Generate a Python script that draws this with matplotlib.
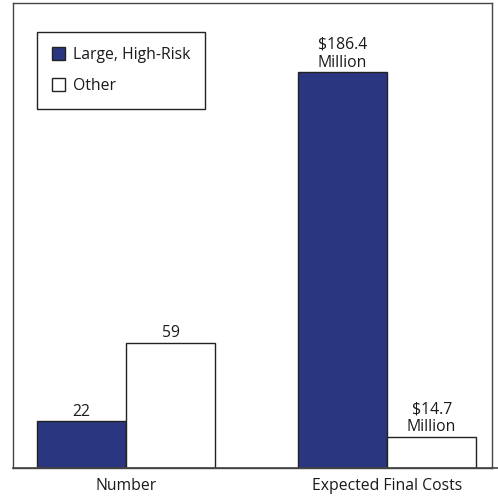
import matplotlib
matplotlib.use("Agg")
import matplotlib.pyplot as plt
import numpy as np

categories = ["Number", "Expected Final Costs"]
series_names = ["Large, High-Risk", "Other"]
large_values = [22, 186.4]
other_values = [59, 14.7]
large_labels = ["22", "$186.4\nMillion"]
other_labels = ["59", "$14.7\nMillion"]

blue = "#2a3680"
plt.rcParams["font.family"] = ["Open Sans", "DejaVu Sans"]
fs = 11.3

fig = plt.figure(figsize=(4.98, 4.99), dpi=100)
ax = fig.add_axes([0.0261, 0.0621, 0.962, 0.932])

x = np.arange(len(categories))
w = 0.341
b1 = ax.bar(x - w / 2, large_values, w, color=blue, edgecolor="#222222", linewidth=1, label=series_names[0])
b2 = ax.bar(x + w / 2, other_values, w, color="white", edgecolor="#222222", linewidth=1, label=series_names[1])

for bars, labels in ((b1, large_labels), (b2, other_labels)):
    for bar, lab in zip(bars, labels):
        ax.annotate(lab, (bar.get_x() + bar.get_width() / 2, bar.get_height()),
                    xytext=(0, 1), textcoords="offset points", ha="center", va="bottom",
                    fontsize=fs, color="#1a1a1a", linespacing=1.2)

ax.set_xlim(-0.433, 1.402)
ax.set_ylim(0, 219)
ax.set_xticks(x)
ax.set_xticklabels(categories, fontsize=fs, color="#1a1a1a")
ax.tick_params(axis="x", length=0, pad=7)
ax.set_yticks([])
for s in ax.spines.values():
    s.set_color("#444444")
    s.set_linewidth(1)
ax.plot([0, 1.013], [0, 0], transform=ax.transAxes, color="#444444", lw=1.2, clip_on=False)

leg = ax.legend(loc="upper left", bbox_to_anchor=(0.05, 0.9376), fontsize=fs,
                frameon=True, fancybox=False, edgecolor="#222222", framealpha=1,
                handlelength=0.85, handleheight=0.85, handletextpad=0.5,
                labelspacing=0.95, borderpad=0.95, borderaxespad=0)
leg.get_frame().set_linewidth(1)
for t in leg.get_texts():
    t.set_color("#1a1a1a")

fig.savefig("out.png", dpi=100)
